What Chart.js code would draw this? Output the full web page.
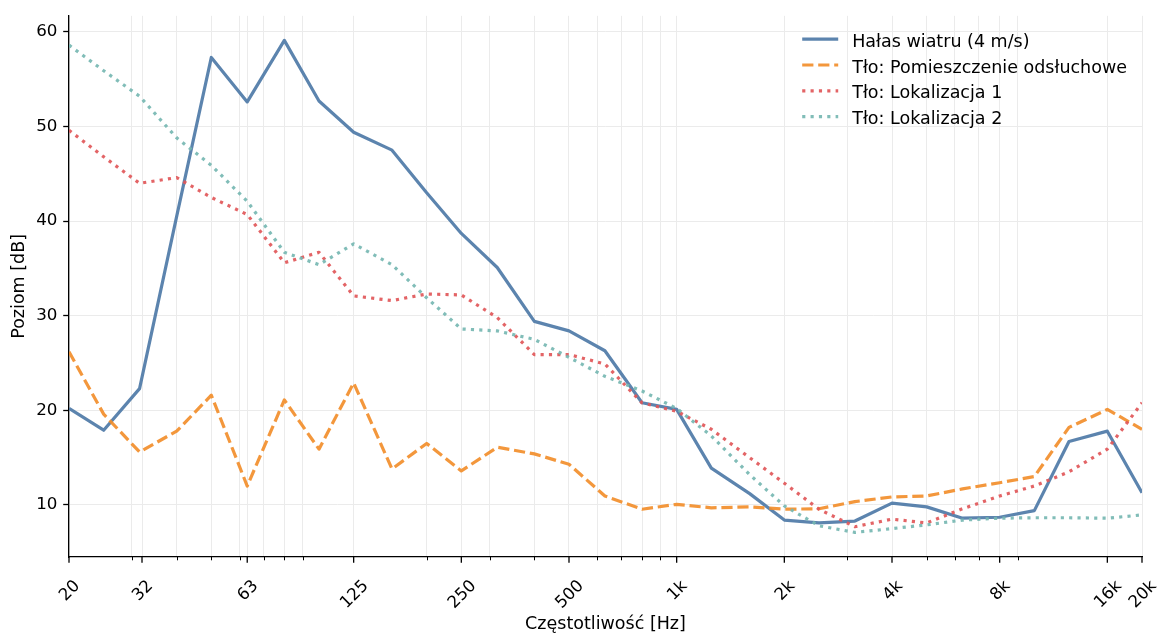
<!DOCTYPE html>
<html><head><meta charset="utf-8">
<script src="https://cdn.jsdelivr.net/npm/chart.js@4.4.1/dist/chart.umd.min.js"></script>
<style>html,body{margin:0;padding:0;background:#fff;} #wrap{width:1157px;height:634px;position:relative;}</style>
</head><body><div id="wrap"><canvas id="c" width="1157" height="634"></canvas></div>
<script>
// Third-octave band centre frequencies [Hz]
const freqs = [20,25,31.5,40,50,63,80,100,125,160,200,250,315,400,500,630,800,1000,1250,1600,2000,2500,3150,4000,5000,6300,8000,10000,12500,16000,20000];
// Levels [dB]
const windNoise = [20.2,17.9,22.3,40.5,57.3,52.6,59.1,52.7,49.4,47.5,43.0,38.7,35.1,29.4,28.4,26.3,20.8,20.1,13.9,11.2,8.4,8.1,8.3,10.2,9.8,8.6,8.7,9.4,16.7,17.8,11.3];
const roomBg    = [26.2,19.6,15.6,17.8,21.6,12.0,21.1,15.9,22.9,13.8,16.5,13.6,16.1,15.4,14.3,10.95,9.55,10.07,9.7,9.8,9.55,9.6,10.35,10.85,10.95,11.7,12.35,13.0,18.2,20.1,18.0];
const loc1Bg    = [49.6,46.8,44.0,44.6,42.5,40.7,35.6,36.7,32.1,31.6,32.3,32.2,29.8,25.9,25.9,24.9,20.8,19.9,18.0,15.0,12.3,9.55,7.7,8.5,8.1,9.6,10.95,12.0,13.5,15.9,20.8];
const loc2Bg    = [58.6,55.9,53.2,48.8,45.9,42.1,36.7,35.4,37.6,35.4,31.9,28.6,28.4,27.5,25.6,23.6,22.05,20.2,17.3,13.2,9.9,7.8,7.1,7.5,7.9,8.4,8.6,8.65,8.65,8.6,8.95];
const seriesLabels = ['Hałas wiatru (4 m/s)','Tło: Pomieszczenie odsłuchowe','Tło: Lokalizacja 1','Tło: Lokalizacja 2'];
// Axis ticks
const xMajorTicks  = [20,32,63,125,250,500,1000,2000,4000,8000,16000,20000];
const xMajorLabels = ['20','32','63','125','250','500','1k','2k','4k','8k','16k','20k'];
const xMinorTicks  = [30,40,50,60,70,80,90,200,300,400,600,700,800,900,3000,5000,6000,7000,9000];
const yTicks = [10,20,30,40,50,60];

const FAMILY = '"DejaVu Sans", sans-serif';
const FS = 16.7;   // tick labels
const FL = 17.5;   // legend and axis titles

const pts = arr => freqs.map((f,i)=>({x:f, y:arr[i]}));

const xAxisPlugin = {
  id: 'xAxisTicks',
  afterDraw(chart) {
    const ctx = chart.ctx, xs = chart.scales.x, ca = chart.chartArea;
    const y0 = ca.bottom;
    ctx.save();
    ctx.strokeStyle = '#000';
    ctx.lineWidth = 1;
    xMinorTicks.forEach(v => {
      const px = Math.round(xs.getPixelForValue(v)) + 0.5;
      ctx.beginPath(); ctx.moveTo(px, y0); ctx.lineTo(px, y0 + 3.3); ctx.stroke();
    });
    ctx.lineWidth = 1.3;
    xMajorTicks.forEach(v => {
      const px = xs.getPixelForValue(v);
      ctx.beginPath(); ctx.moveTo(px, y0); ctx.lineTo(px, y0 + 5.8); ctx.stroke();
    });
    ctx.font = FS + 'px ' + FAMILY;
    ctx.fillStyle = '#000';
    const h = FS * 1.164;
    const top = y0 + 18.6;
    xMajorTicks.forEach((v,i) => {
      const lab = xMajorLabels[i];
      const w = ctx.measureText(lab).width;
      const side = (w + h) * Math.SQRT1_2;
      const cx = xs.getPixelForValue(v), cy = top + side/2;
      ctx.save();
      ctx.translate(cx, cy);
      ctx.rotate(-Math.PI/4);
      ctx.textAlign = 'left';
      ctx.textBaseline = 'alphabetic';
      ctx.fillText(lab, -w/2, 0.346*FS);
      ctx.restore();
    });
    ctx.restore();
  }
};

const legendPlugin = {
  id: 'innerLegend',
  afterDatasetsDraw(chart) {
    const ctx = chart.ctx, ca = chart.chartArea;
    ctx.save();
    ctx.font = FL + 'px ' + FAMILY;
    const ds = chart.data.datasets;
    const maxW = Math.max(...ds.map(d => ctx.measureText(d.label).width));
    const textX = ca.right - 15 - maxW;
    const hx1 = textX - 14, hx0 = hx1 - 36;
    ds.forEach((d, i) => {
      const cy = ca.top + 23.4 + i * 25.8;
      ctx.strokeStyle = d.borderColor;
      ctx.lineWidth = d.borderWidth;
      ctx.setLineDash(d.borderDash || []);
      ctx.lineCap = 'butt';
      ctx.beginPath(); ctx.moveTo(hx0, cy); ctx.lineTo(hx1, cy); ctx.stroke();
      ctx.setLineDash([]);
      ctx.fillStyle = '#000';
      ctx.textAlign = 'left';
      ctx.textBaseline = 'alphabetic';
      ctx.fillText(d.label, textX, cy + 7.5);
    });
    ctx.restore();
  }
};

const common = { pointRadius: 0, pointHoverRadius: 0, tension: 0, fill: false, borderJoinStyle: 'round', borderCapStyle: 'butt' };

new Chart(document.getElementById('c'), {
  type: 'line',
  data: {
    datasets: [
      Object.assign({ label: seriesLabels[0], data: pts(windNoise), borderColor: 'rgba(78,121,167,0.92)', borderWidth: 3.2, borderDash: [], order: 4 }, common),
      Object.assign({ label: seriesLabels[1], data: pts(roomBg), borderColor: 'rgba(242,142,43,0.92)', borderWidth: 3.2, borderDash: [11.2, 4.8], order: 3 }, common),
      Object.assign({ label: seriesLabels[2], data: pts(loc1Bg), borderColor: 'rgba(225,87,89,0.92)', borderWidth: 3.2, borderDash: [3.15, 5.2], order: 2 }, common),
      Object.assign({ label: seriesLabels[3], data: pts(loc2Bg), borderColor: 'rgba(118,183,178,0.92)', borderWidth: 3.2, borderDash: [3.15, 5.2], order: 1 }, common)
    ]
  },
  options: {
    responsive: false,
    animation: false,
    devicePixelRatio: 1,
    layout: { padding: { left: 0, right: 15, top: 15, bottom: 0 } },
    plugins: { legend: { display: false }, tooltip: { enabled: false } },
    scales: {
      x: {
        type: 'logarithmic', min: 20, max: 20000,
        afterBuildTicks: s => {
          s.ticks = [...xMajorTicks, ...xMinorTicks].sort((a,b)=>a-b).map(v => ({ value: v }));
        },
        afterFit: s => { s.height = 77; },
        ticks: { display: false, autoSkip: false },
        grid: { color: '#ebebeb', lineWidth: 1, drawTicks: false, tickLength: 0 },
        border: { display: true, color: '#000', width: 1.3 },
        title: { display: true, text: 'Częstotliwość [Hz]', color: '#000', font: { family: FAMILY, size: FL }, padding: { top: 0, bottom: -1 } }
      },
      y: {
        type: 'linear', min: 4.5, max: 61.7,
        afterBuildTicks: s => { s.ticks = yTicks.map(v => ({ value: v })); },
        afterFit: s => { s.width = 69; },
        ticks: { color: '#000', font: { family: FAMILY, size: FS }, padding: 5.8, autoSkip: false },
        grid: { color: '#ebebeb', lineWidth: 1, tickLength: 5.8, tickColor: '#000', tickWidth: 1.3 },
        border: { display: true, color: '#000', width: 1.3 },
        title: { display: true, text: 'Poziom [dB]', color: '#000', font: { family: FAMILY, size: FL }, padding: { top: 9, bottom: 0 } }
      }
    }
  },
  plugins: [legendPlugin, xAxisPlugin]
});
</script>
</body></html>
